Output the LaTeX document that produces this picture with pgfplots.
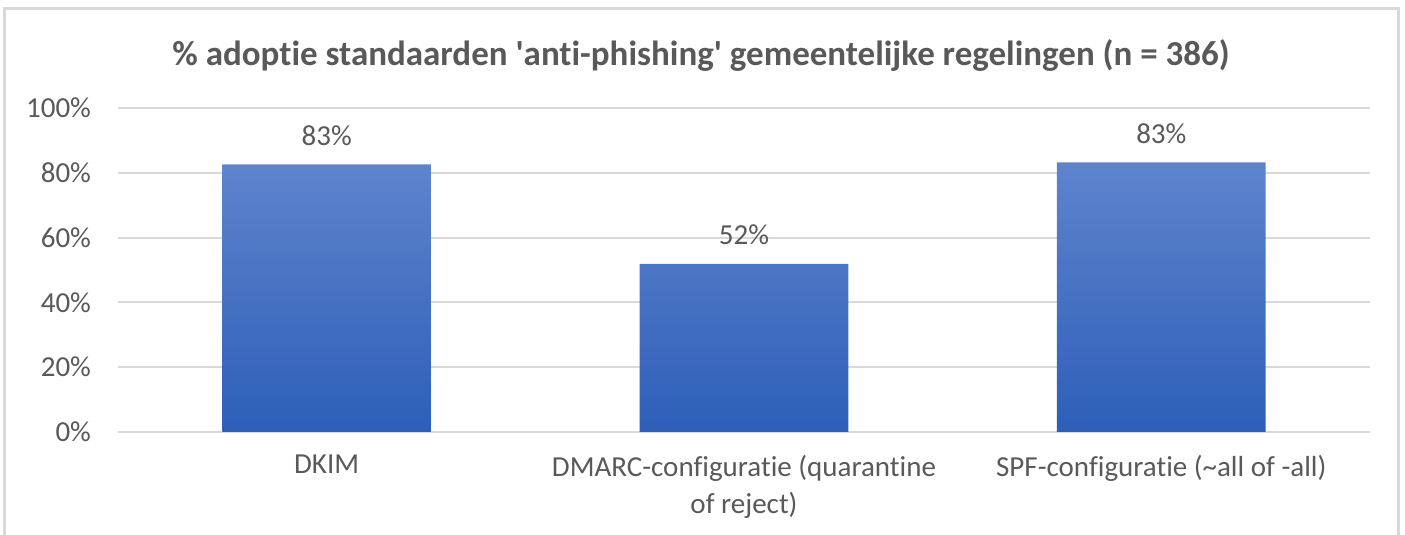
\documentclass[border=0pt]{standalone}
\usepackage{pgfplots}
\pgfplotsset{compat=1.18}
\usepackage{fontspec}
\setmainfont{Carlito}[Ligatures=NoCommon]
\definecolor{txt}{HTML}{595959}
\definecolor{gridc}{HTML}{D9D9D9}
\definecolor{bartop}{HTML}{5E84CD}
\definecolor{barbot}{HTML}{2E5EB8}
\begin{document}
\begin{tikzpicture}
% 1 px of the reference = 0.5pt
\useasboundingbox (0pt,0pt) rectangle (702.5pt,267.5pt);
\clip (0pt,0pt) rectangle (702.5pt,267.5pt);
\draw[gridc, line width=1.5pt] (2pt,-10pt) -- (2pt,263pt) -- (699pt,263pt) -- (699pt,-10pt);
\node[txt, font=\fontsize{17.5}{21}\selectfont\bfseries] at (350.5pt,240pt)
  {\% adoptie standaarden \textquotesingle anti-phishing\textquotesingle\ gemeentelijke regelingen (n = 386)};
\begin{axis}[
  at={(59pt,51.5pt)}, anchor=south west, scale only axis,
  width=626pt, height=162pt,
  xmin=-0.5, xmax=2.5, ymin=0, ymax=100,
  xtick={0,1,2},
  xticklabels={DKIM,{DMARC-configuratie (quarantine\\of reject)},{SPF-configuratie (\textasciitilde all of -all)}},
  ytick={0,20,...,100},
  yticklabels={0\%,20\%,40\%,60\%,80\%,100\%},
  axis line style={draw=none},
  major tick length=0pt,
  ymajorgrids, grid style={gridc, line width=1pt},
  tick label style={txt, font=\fontsize{14.5}{18.5}\selectfont},
  xticklabel style={align=center, yshift=-8pt},
  yticklabel style={xshift=-10pt},
  nodes near coords={\pgfmathprintnumber[fixed, precision=0, assume math mode=true]{\pgfplotspointmeta}\%},
  nodes near coords style={txt, font=\fontsize{14.5}{18.5}\selectfont, anchor=south, yshift=6pt},
]
\addplot[ybar, bar width=0.5, draw=none, top color=bartop, bottom color=barbot]
  coordinates {(0,82.6) (1,51.9) (2,83.2)};
\end{axis}
\end{tikzpicture}
\end{document}
